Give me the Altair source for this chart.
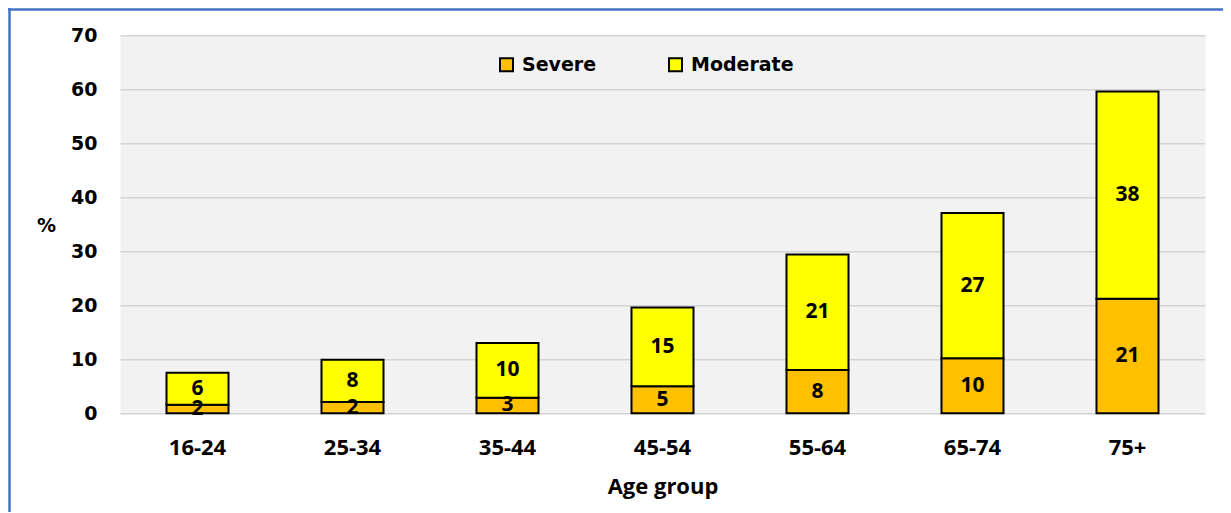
import altair as alt
import pandas as pd

age_groups = ["16-24", "25-34", "35-44", "45-54", "55-64", "65-74", "75+"]
severe = [1.6, 2.1, 2.9, 5.0, 8.0, 10.2, 21.2]
moderate = [5.9, 7.8, 10.1, 14.6, 21.4, 26.9, 38.4]
degrees = ["Severe", "Moderate"]
colors = ["#FFC000", "#FFFF00"]
y_ticks = [0, 10, 20, 30, 40, 50, 60, 70]

rows = []
for i, a in enumerate(age_groups):
    rows.append({"age": a, "degree": degrees[0], "order": 0, "value": severe[i]})
    rows.append({"age": a, "degree": degrees[1], "order": 1, "value": moderate[i]})
df = pd.DataFrame(rows)

W, H = 1085, 378

base = alt.Chart(df).transform_stack(
    stack="value",
    groupby=["age"],
    sort=[alt.SortField("order", order="ascending")],
    as_=["v0", "v1"],
).transform_calculate(mid="(datum.v0 + datum.v1) / 2")

x_enc = alt.X(
    "age:N",
    sort=age_groups,
    scale=alt.Scale(paddingInner=0.6, paddingOuter=0.3),
    axis=alt.Axis(
        title="Age group",
        labelAngle=0,
        labelFont="Open Sans",
        labelFontWeight="bold",
        labelFontSize=22,
        labelColor="#000000",
        labelBaseline="alphabetic",
        labelPadding=41,
        ticks=False,
        tickSize=0,
        domain=False,
        grid=False,
        titleFont="Open Sans",
        titleFontWeight="bold",
        titleFontSize=22,
        titleColor="#000000",
        titleBaseline="alphabetic",
        titleY=80,
    ),
)

y_enc = alt.Y(
    "v0:Q",
    scale=alt.Scale(domain=[0, 70], nice=False),
    axis=alt.Axis(
        title="%",
        values=y_ticks,
        labelFont="DejaVu Sans",
        labelFontWeight="bold",
        labelFontSize=19,
        labelColor="#000000",
        labelPadding=23,
        ticks=False,
        tickSize=0,
        domain=False,
        grid=True,
        gridColor="#d4d4d4",
        gridWidth=1.5,
        titleFont="DejaVu Sans",
        titleFontWeight="bold",
        titleFontSize=19,
        titleColor="#000000",
        titleAngle=0,
        titleAlign="center",
        titleBaseline="middle",
        titleX=-74,
        titleY=190,
    ),
)

bars = base.mark_bar(stroke="black", strokeWidth=2, opacity=1).encode(
    x=x_enc,
    y=y_enc,
    y2="v1:Q",
    color=alt.Color(
        "degree:N",
        scale=alt.Scale(domain=degrees, range=colors),
        legend=alt.Legend(
            orient="none",
            legendX=377,
            legendY=20,
            direction="horizontal",
            title=None,
            symbolType="square",
            symbolSize=169,
            symbolStrokeColor="black",
            symbolStrokeWidth=2,
            symbolOpacity=1,
            labelFont="DejaVu Sans",
            labelFontWeight="bold",
            labelFontSize=19,
            labelColor="#000000",
            labelOffset=6,
            columnPadding=68,
            padding=0,
        ),
    ),
)

labels = base.mark_text(
    font="Open Sans", fontWeight="bold", fontSize=21, color="#000000", baseline="middle"
).encode(
    x=alt.X("age:N", sort=age_groups),
    y=alt.Y("mid:Q"),
    text=alt.Text("value:Q", format=".0f"),
)

one = pd.DataFrame({"k": [0]})
frame_top = alt.Chart(one).mark_rule(color="#4472C4", strokeWidth=2.5).encode(
    x=alt.value(-112), x2=alt.value(W + 18), y=alt.value(-25.8)
)
frame_left = alt.Chart(one).mark_rule(color="#4472C4", strokeWidth=2.5).encode(
    x=alt.value(-110.5), y=alt.value(-27.3), y2=alt.value(H + 100)
)

chart = (
    alt.layer(bars, labels, frame_top, frame_left)
    .properties(
        width=W,
        height=H,
        autosize=alt.AutoSizeParams(type="none"),
        padding={"left": 112, "top": 27.3, "right": 18, "bottom": 99},
        background="white",
    )
    .configure_view(fill="#f2f2f2", stroke="transparent")
)

chart.save("out.html", embed_options={"renderer": "svg", "actions": False})
